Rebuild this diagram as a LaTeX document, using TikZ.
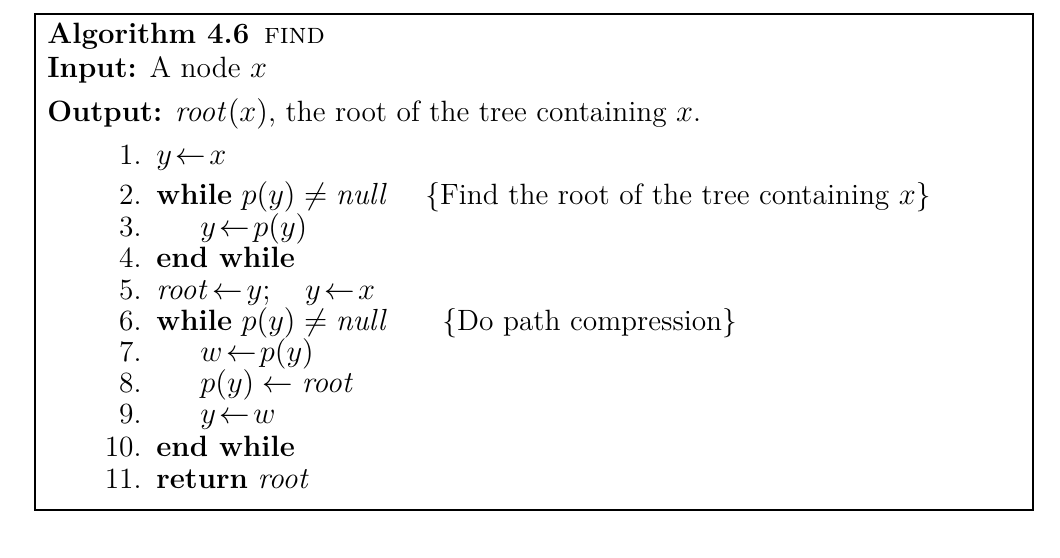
\documentclass[tikz,border=0pt]{standalone}
\begin{document}
\begin{tikzpicture}[x=0.4717pt,y=-0.4717pt,
  t/.style={anchor=base west,inner sep=0pt,font=\fontsize{13.85}{16}\selectfont},
  n/.style={anchor=base east,inner sep=0pt,font=\fontsize{13.85}{16}\selectfont}]
\useasboundingbox (0,0) rectangle (1060,558);
\draw[line width=0.8pt] (35,14) rectangle (1033,510);
\node[t] (h) at (47,44) {\textbf{Algorithm 4.6}\enspace\textsc{find}};
\node[t] (i) at (47,78) {\textbf{Input:} A node $x$};
\node[t] (o) at (47,122) {\textbf{Output:} $\mathit{root}(x)$, the root of the tree containing $x$.};
\foreach \k/\y in {1/165,2/205,3/237,4/268,5/300,6/331,7/362,8/393,9/424,10/456,11/488}
  \node[n] (n\k) at (142,\y) {\k.};
\node[t] (l1) at (156,165) {$y\!\gets\! x$};
\node[t] (l2) at (156,205) {\textbf{while} $p(y)\neq \mathit{null}$};
\node[t] (c2) at (425,205) {\{Find the root of the tree containing $x$\}};
\node[t] (l3) at (200,237) {$y\!\gets\! p(y)$};
\node[t] (l4) at (156,268) {\textbf{end while}};
\node[t] (l5) at (156,300) {$\mathit{root}\!\gets\! y;\quad y\!\gets\! x$};
\node[t] (l6) at (156,331) {\textbf{while} $p(y)\neq \mathit{null}$};
\node[t] (c6) at (442,331) {\{Do path compression\}};
\node[t] (l7) at (200,362) {$w\!\gets\! p(y)$};
\node[t] (l8) at (200,393) {$p(y)\gets \mathit{root}$};
\node[t] (l9) at (200,424) {$y\!\gets\! w$};
\node[t] (l10) at (156,456) {\textbf{end while}};
\node[t] (l11) at (156,488) {\textbf{return} $\mathit{root}$};
\end{tikzpicture}
\end{document}
